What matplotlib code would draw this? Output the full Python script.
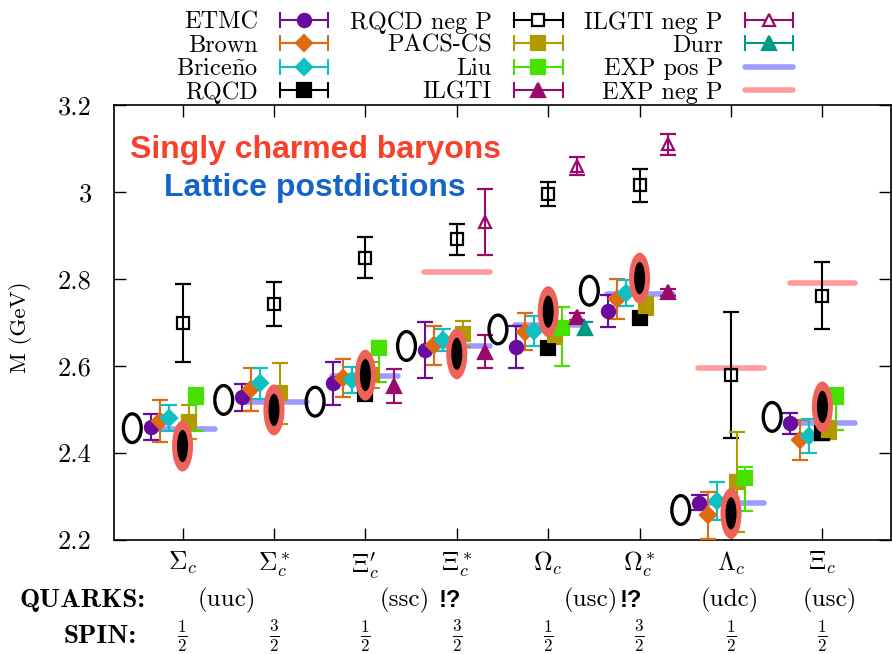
import numpy as np
import matplotlib
matplotlib.use('Agg')
import matplotlib.pyplot as plt
from matplotlib.lines import Line2D
from matplotlib.patches import Ellipse
from matplotlib.legend_handler import HandlerLine2D, HandlerTuple

plt.rcParams['font.family'] = ['cmr10', 'DejaVu Serif']
plt.rcParams['mathtext.fontset'] = 'cm'
plt.rcParams['axes.formatter.use_mathtext'] = True

nan = np.nan

# categories (x = 1..8)
baryons = [r'$\Sigma_c$', r'$\Sigma_c^*$', r'$\Xi_c^{\prime}$', r'$\Xi_c^*$',
           r'$\Omega_c$', r'$\Omega_c^*$', r'$\Lambda_c$', r'$\Xi_c$']
spins = [r'$\frac{1}{2}$', r'$\frac{3}{2}$', r'$\frac{1}{2}$', r'$\frac{3}{2}$',
         r'$\frac{1}{2}$', r'$\frac{3}{2}$', r'$\frac{1}{2}$', r'$\frac{1}{2}$']
quarks = ['(uuc)', '(ssc)', '(usc)', '(udc)', '(usc)']
quarks_x = [1.48, 3.43, 5.47, 6.99, 8.08]
alarm_x = [3.92, 5.90]

# lattice results (GeV)
etmc = [2.460, 2.528, 2.560, 2.637, 2.643, 2.727, 2.286, 2.468]
etmc_err = [0.029, 0.031, 0.050, 0.065, 0.048, 0.037, 0.018, 0.024]
brown = [2.474, 2.546, 2.573, 2.648, 2.679, 2.753, 2.257, 2.431]
brown_err = [0.048, 0.050, 0.044, 0.045, 0.043, 0.046, 0.054, 0.046]
briceno = [2.481, 2.560, 2.568, 2.660, 2.681, 2.767, 2.290, 2.439]
briceno_err = [0.030, 0.036, 0.030, 0.026, 0.034, 0.030, 0.044, 0.040]
rqcd = [2.420, 2.500, 2.540, 2.620, 2.642, 2.710, 2.280, 2.445]
rqcd_err = [0.015, 0.015, 0.020, 0.015, 0.010, 0.010, 0.015, 0.015]
rqcd_neg = [2.699, 2.743, 2.849, 2.891, 2.995, 3.016, 2.579, 2.762]
rqcd_neg_err = [0.089, 0.050, 0.047, 0.036, 0.027, 0.038, 0.145, 0.078]
pacs = [2.472, 2.537, 2.580, 2.674, 2.671, 2.738, 2.334, 2.453]
pacs_err = [0.039, 0.070, 0.030, 0.030, 0.020, 0.020, 0.115, 0.020]
liu = [2.528, nan, 2.641, nan, 2.687, nan, 2.342, 2.529]
liu_lo = [0.077, nan, 0.077, nan, 0.087, nan, 0.075, 0.076]
liu_hi = [0.021, nan, 0.017, nan, 0.049, nan, 0.025, 0.020]
ilgti = [nan, nan, 2.554, 2.633, 2.713, 2.769, nan, nan]
ilgti_err = [nan, nan, 0.040, 0.038, 0.008, 0.008, nan, nan]
ilgti_neg = [nan, nan, nan, 2.931, 3.060, 3.110, nan, nan]
ilgti_neg_err = [nan, nan, nan, 0.075, 0.020, 0.024, nan, nan]
durr = [nan, nan, nan, nan, 2.687, nan, nan, nan]
durr_err = [nan, nan, nan, nan, 0.015, nan, nan, nan]

# experiment
exp_pos = [2.455, 2.518, 2.578, 2.645, 2.695, 2.766, 2.286, 2.468]
exp_neg = [nan, nan, nan, 2.816, nan, nan, 2.595, 2.790]

# ellipses (open: left, filled with halo: centre)
open_ell = [2.457, 2.522, 2.518, 2.646, 2.684, 2.773, 2.269, 2.483]
filled_ell = [2.416, 2.499, 2.579, 2.628, 2.725, 2.802, 2.261, 2.506]

cat_x = np.arange(1, 9)

fig = plt.figure(figsize=(8.92, 6.54), dpi=100)
ax = fig.add_axes([114/892, 114/654, 777/892, 435/654])


def series(vals, lo, hi, off, color, marker, filled=True, ms=9.5):
    v = np.array(vals, float)
    lo = np.array(lo, float)
    hi = np.array(hi, float)
    ok = ~np.isnan(v)
    ax.errorbar(cat_x[ok] + off, v[ok], yerr=[lo[ok], hi[ok]], fmt=marker,
                color=color, ms=ms, mfc=color if filled else 'none', mec=color,
                mew=1.6, elinewidth=1.5, capsize=5.5, capthick=1.5, zorder=3)


c_etmc = '#6a0a9e'
c_brown = '#e06a10'
c_bric = '#10c0c0'
c_rqcd = 'black'
c_pacs = '#b09a00'
c_liu = '#48e000'
c_ilgti = '#9a0a6a'
c_durr = '#009a82'
c_pos = '#9c9cff'
c_neg = '#ff9c9c'

# experimental lines
for x, m in zip(cat_x, exp_pos):
    ax.plot([x - 0.36, x + 0.36], [m, m], color=c_pos, lw=4, solid_capstyle='round', zorder=1)
for x, m in zip(cat_x, exp_neg):
    if not np.isnan(m):
        ax.plot([x - 0.36, x + 0.36], [m, m], color=c_neg, lw=4, solid_capstyle='round', zorder=1)

series(etmc, etmc_err, etmc_err, -0.35, c_etmc, 'o')
series(brown, brown_err, brown_err, -0.25, c_brown, 'D', ms=8)
series(briceno, briceno_err, briceno_err, -0.15, c_bric, 'D', ms=8)
series(rqcd, rqcd_err, rqcd_err, 0.0, c_rqcd, 's')
series(rqcd_neg, rqcd_neg_err, rqcd_neg_err, 0.0, c_rqcd, 's', filled=False, ms=9)
series(pacs, pacs_err, pacs_err, 0.07, c_pacs, 's')
series(liu, liu_lo, liu_hi, 0.15, c_liu, 's')
series(ilgti, ilgti_err, ilgti_err, 0.31, c_ilgti, '^')
series(ilgti_neg, ilgti_neg_err, ilgti_neg_err, 0.31, c_ilgti, '^', filled=False, ms=9)
series(durr, durr_err, durr_err, 0.40, c_durr, '^')

for x, m in zip(cat_x, open_ell):
    ax.add_patch(Ellipse((x - 0.55, m), 0.195, 0.066, fill=False, ec='black', lw=2.4, zorder=6))
for x, m in zip(cat_x, filled_ell):
    ax.add_patch(Ellipse((x, m), 0.23, 0.117, fc='#ee625a', ec='none', zorder=6))
    ax.add_patch(Ellipse((x, m), 0.12, 0.074, fc='black', ec='none', zorder=7))

ax.set_xlim(0.25, 8.75)
ax.set_ylim(2.2, 3.2)
ax.set_xticks(cat_x)
ax.set_xticklabels(baryons, fontsize=18.5)
ax.set_yticks([2.2, 2.4, 2.6, 2.8, 3.0, 3.2])
ax.set_yticklabels(['2.2', '2.4', '2.6', '2.8', '3', '3.2'], fontsize=19)
ax.tick_params(direction='in', length=8.5, width=1, top=True, right=True)
ax.tick_params(axis='x', pad=7)
ax.tick_params(axis='y', pad=16)
for s in ax.spines.values():
    s.set_linewidth(1.2)

fig.text(21/892, 0.5, 'M (GeV)', rotation=90, ha='center', va='center', fontsize=16.5)

ax.text(0.259, 0.897, 'Singly charmed baryons', transform=ax.transAxes, ha='center', va='center',
        fontsize=23, fontweight='bold', family='Liberation Sans', color='#f8402a')
ax.text(0.259, 0.809, 'Lattice postdictions', transform=ax.transAxes, ha='center', va='center',
        fontsize=23, fontweight='bold', family='Liberation Sans', color='#1565c8')

tr = ax.get_xaxis_transform()
ax.text(0.589, -0.14, 'QUARKS:', transform=tr, ha='right', va='center', fontsize=19.5, family='cmb10')
ax.text(0.50, -0.221, 'SPIN:', transform=tr, ha='right', va='center', fontsize=19.5, family='cmb10')
for x, q in zip(quarks_x, quarks):
    ax.text(x, -0.14, q, transform=tr, ha='center', va='center', fontsize=18)
for x in alarm_x:
    ax.text(x, -0.14, '!?', transform=tr, ha='center', va='center', fontsize=17,
            fontweight='bold', family='Liberation Sans')
for x, s in zip(cat_x, spins):
    ax.text(x, -0.221, s, transform=tr, ha='center', va='center', fontsize=17.5)

# legend in gnuplot style
def lh(color, marker, filled=True, ms=9.5):
    caps = Line2D([], [], color=color, lw=1.5, marker='|', ms=12, mew=1.5)
    mark = Line2D([], [], color=color, ls='none', marker=marker, ms=ms,
                  mfc=color if filled else 'white', mec=color, mew=1.6)
    return caps, mark

entries = [
    ('ETMC', lh(c_etmc, 'o')),
    ('Brown', lh(c_brown, 'D', ms=8.5)),
    (r'Brice$\tilde{\mathrm{n}}$o', lh(c_bric, 'D', ms=8.5)),
    ('RQCD', lh(c_rqcd, 's')),
    ('RQCD neg P', lh(c_rqcd, 's', False, 9)),
    ('PACS-CS', lh(c_pacs, 's')),
    ('Liu', lh(c_liu, 's')),
    ('ILGTI', lh(c_ilgti, '^')),
    ('ILGTI neg P', lh(c_ilgti, '^', False, 9)),
    ('Durr', lh(c_durr, '^')),
]
handles = []
labels = []
hmap = {tuple: HandlerTuple(ndivide=1)}
for lab, (caps, mark) in entries:
    handles.append((caps, mark))
    labels.append(lab)
    hmap[caps] = HandlerLine2D(numpoints=2, marker_pad=0)
handles.append(Line2D([], [], color=c_pos, lw=4, solid_capstyle='round'))
labels.append('EXP pos P')
handles.append(Line2D([], [], color=c_neg, lw=4, solid_capstyle='round'))
labels.append('EXP neg P')

fig.legend(handles, labels, handler_map=hmap, ncol=3, markerfirst=False, frameon=False,
           loc='upper left', bbox_to_anchor=(176/892, 1 - 11/654), borderpad=0, borderaxespad=0,
           fontsize=17.5, handlelength=2.0, handletextpad=0.9, columnspacing=0.9,
           labelspacing=0.05, numpoints=1)

fig.savefig('out.png', dpi=100)
